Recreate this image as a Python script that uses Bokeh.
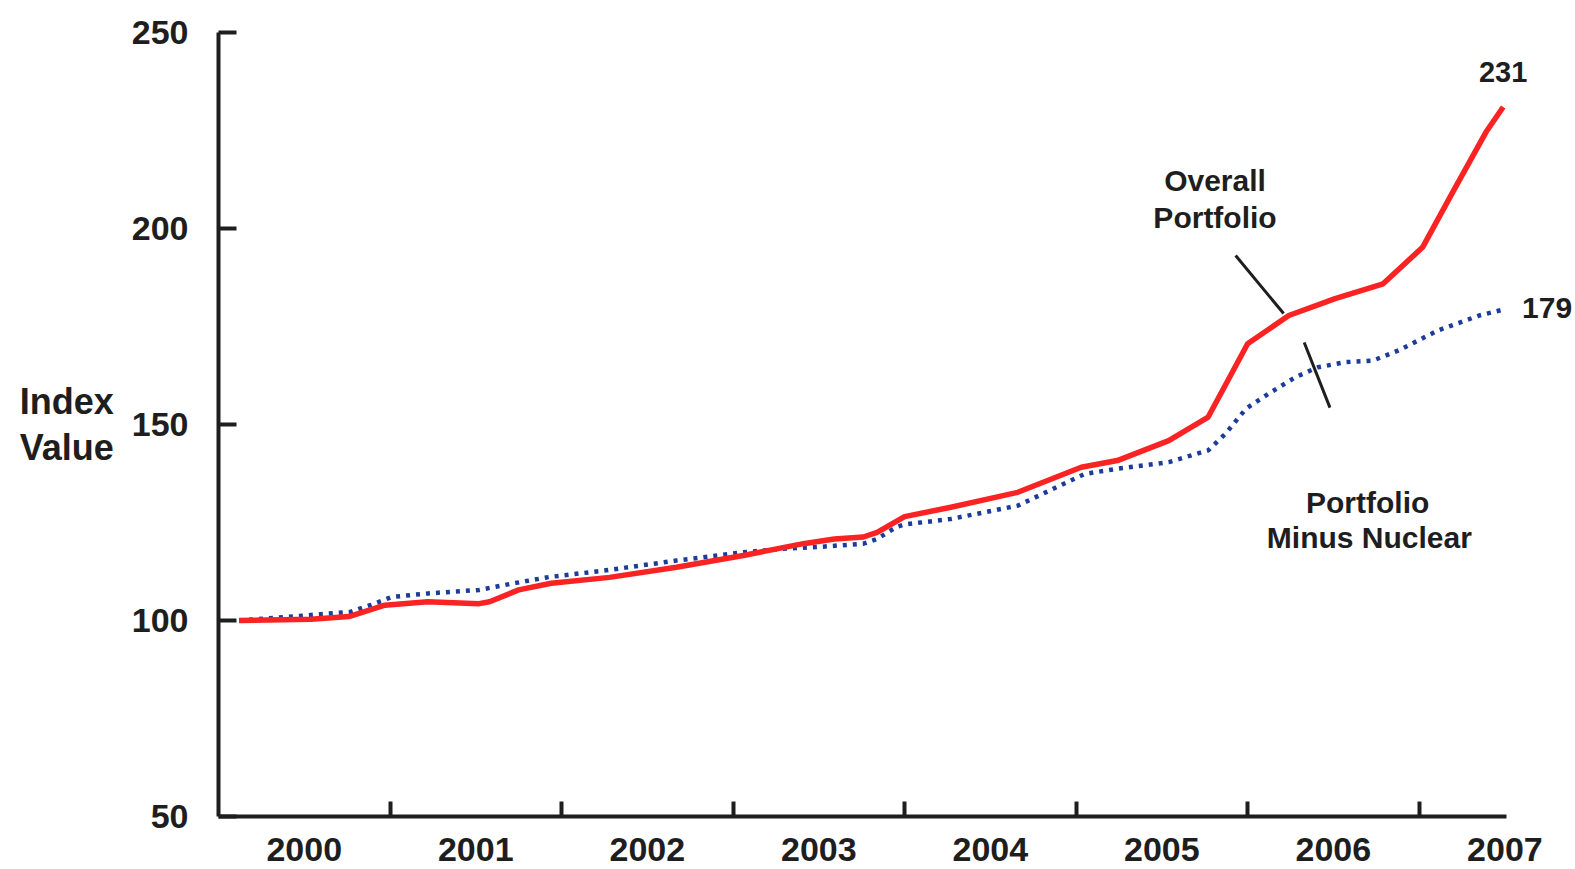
from bokeh.plotting import figure
from bokeh.models import FixedTicker, Label, ColumnDataSource, Range1d
from bokeh.embed import file_html
from bokeh.resources import INLINE

# ---- data ----
overall_t = [2000.12, 2000.54, 2000.76, 2000.97, 2001.22, 2001.52, 2001.58, 2001.75, 2001.94,
             2002.28, 2002.67, 2003.06, 2003.41, 2003.59, 2003.76, 2003.84, 2004.00, 2004.27,
             2004.66, 2005.03, 2005.24, 2005.54, 2005.77, 2005.87, 2006.00, 2006.24, 2006.51,
             2006.79, 2007.02, 2007.20, 2007.39, 2007.49]
overall_v = [100.0, 100.3, 101.0, 103.9, 104.8, 104.3, 104.8, 107.8, 109.5,
             111.0, 113.6, 116.6, 119.6, 120.8, 121.3, 122.5, 126.5, 128.9,
             132.7, 139.1, 140.8, 145.9, 151.9, 160.0, 170.6, 177.8, 182.1,
             185.9, 195.2, 209.6, 224.6, 231.0]

nonuc_t = [2000.12, 2000.48, 2000.77, 2000.89, 2001.01, 2001.22, 2001.52, 2001.71, 2001.93,
           2002.28, 2002.67, 2003.06, 2003.29, 2003.51, 2003.76, 2003.84, 2003.95, 2004.00,
           2004.27, 2004.66, 2005.05, 2005.24, 2005.54, 2005.77, 2005.87, 2005.99, 2006.12,
           2006.28, 2006.41, 2006.57, 2006.73, 2006.88, 2007.11, 2007.35, 2007.49]
nonuc_v = [100.0, 101.2, 102.2, 104.0, 106.0, 106.9, 107.8, 109.4, 111.1,
           112.9, 115.3, 117.4, 118.3, 118.8, 119.6, 120.8, 123.8, 124.5,
           125.9, 129.3, 137.4, 138.7, 140.4, 143.4, 147.6, 154.0, 157.8,
           162.1, 164.6, 165.9, 166.3, 168.9, 174.0, 177.8, 179.3]

year_labels = ["2000", "2001", "2002", "2003", "2004", "2005", "2006", "2007"]
year_centers = [2000.5, 2001.5, 2002.5, 2003.5, 2004.5, 2005.5, 2006.5, 2007.5]
year_bounds = [2001, 2002, 2003, 2004, 2005, 2006, 2007]
y_ticks = [50, 100, 150, 200, 250]

FONT = "Liberation Sans"
INK = "#1e1e1e"
RED = "#fa2323"
BLUE = "#1c3c9a"

p = figure(width=1575, height=869, output_backend="svg", toolbar_location=None,
           x_range=Range1d(2000.0, 2007.90), y_range=Range1d(50, 250),
           min_border_left=218, min_border_right=2, min_border_top=32, min_border_bottom=53)
p.xgrid.visible = False
p.ygrid.visible = False
p.outline_line_color = None
p.background_fill_color = "white"
p.border_fill_color = "white"

src_o = ColumnDataSource(dict(t=overall_t, v=overall_v))
src_n = ColumnDataSource(dict(t=nonuc_t, v=nonuc_v))
p.line("t", "v", source=src_n, line_color=BLUE, line_width=4.5, line_dash="4 6")
p.line("t", "v", source=src_o, line_color=RED, line_width=5.5, line_join="round")

# leader lines
p.segment(x0=[2005.93, 2006.33], y0=[193.1, 170.9], x1=[2006.21, 2006.48], y1=[178.3, 154.3],
          line_color=INK, line_width=3)

# x axis
xa = p.xaxis[0]
xa.bounds = (2000.0, 2007.51)
xa.ticker = FixedTicker(ticks=year_centers, minor_ticks=year_bounds)
xa.major_label_overrides = {c: l for c, l in zip(year_centers, year_labels)}
xa.major_tick_line_color = None
xa.minor_tick_in = 15
xa.minor_tick_out = 0
xa.minor_tick_line_width = 4
xa.minor_tick_line_color = INK
xa.axis_line_width = 4
xa.axis_line_color = INK
xa.major_label_standoff = 15
xa.major_label_text_font = FONT
xa.major_label_text_font_style = "bold"
xa.major_label_text_font_size = "34px"
xa.major_label_text_line_height = 1.0
xa.major_label_text_color = INK

# y axis
ya = p.yaxis[0]
ya.ticker = FixedTicker(ticks=y_ticks)
ya.major_tick_in = 18
ya.major_tick_out = 0
ya.major_tick_line_width = 4
ya.major_tick_line_color = INK
ya.minor_tick_line_color = None
ya.axis_line_width = 4
ya.axis_line_color = INK
ya.major_label_standoff = 30
ya.major_label_text_font = FONT
ya.major_label_text_font_style = "bold"
ya.major_label_text_font_size = "34px"
ya.major_label_text_color = INK
ya.axis_label = "Index\nValue"
ya.axis_label_orientation = "horizontal"
ya.axis_label_standoff = 15
ya.axis_label_text_font = FONT
ya.axis_label_text_font_style = "bold"
ya.axis_label_text_font_size = "36px"
ya.axis_label_text_line_height = 1.1
ya.axis_label_text_color = INK

def lab(x, y, text, align="center", size="30px"):
    p.add_layout(Label(x=x, y=y, text=text, text_align=align, text_baseline="middle",
                       text_font=FONT, text_font_style="bold", text_font_size=size,
                       text_color=INK))

lab(2005.81, 212.2, "Overall")
lab(2005.81, 202.8, "Portfolio")
lab(2006.70, 130.1, "Portfolio")
lab(2006.71, 121.2, "Minus Nuclear")
lab(2007.49, 239.8, "231", size="29px")
lab(2007.60, 179.8, "179", align="left", size="30px")

open("out.html", "w").write(file_html(p, INLINE))
